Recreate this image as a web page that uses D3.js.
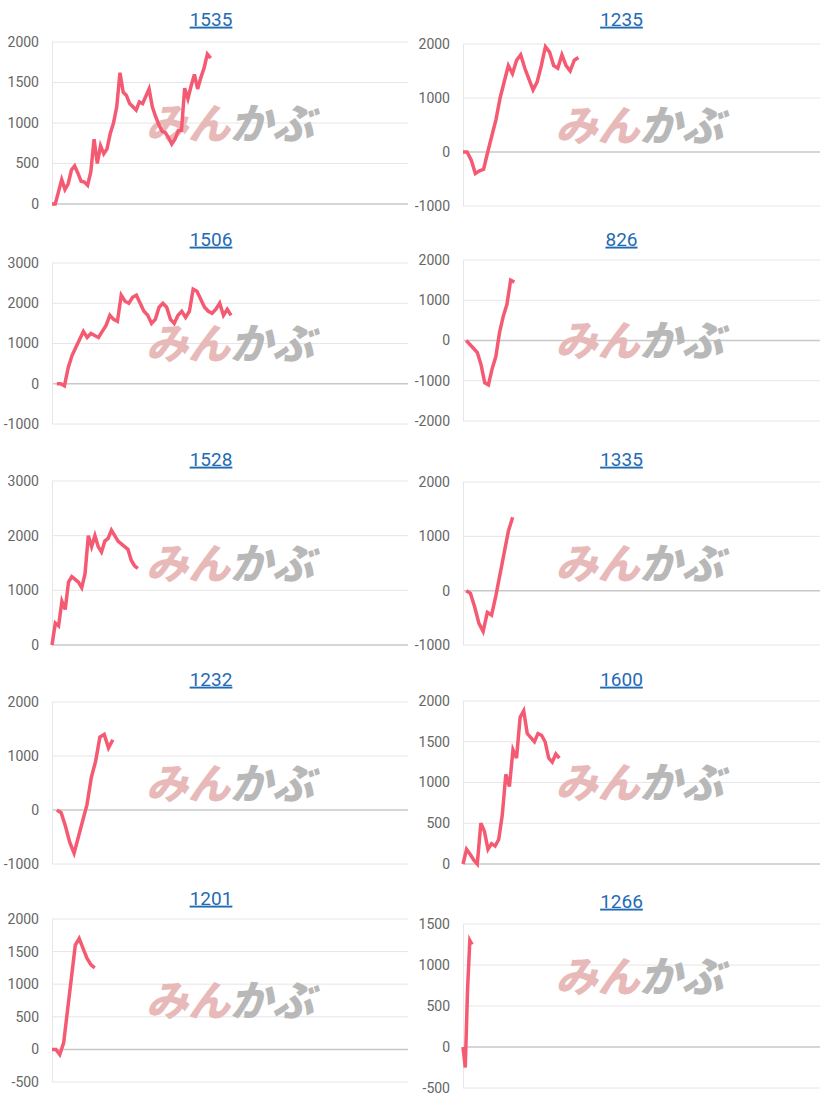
<!DOCTYPE html>
<html><head><meta charset="utf-8">
<script src="https://cdn.jsdelivr.net/npm/d3@7"></script>
<style>body{margin:0;background:#fff}</style></head>
<body><svg id="c" width="822" height="1100"></svg>
<script>
const titles=["1535","1235","1506","826","1528","1335","1232","1600","1201","1266"];
const s1535=[0,0,150,300,180,250,420,470,380,280,270,230,400,800,500,720,620,680,870,1000,1200,1620,1380,1340,1240,1200,1160,1260,1240,1330,1420,1200,1080,980,900,880,820,740,800,900,910,1430,1300,1460,1600,1420,1560,1680,1850,1800];
const s1235=[0,0,-150,-400,-350,-320,0,300,600,1000,1300,1600,1450,1700,1800,1550,1350,1150,1300,1600,1950,1850,1600,1550,1800,1600,1500,1700,1750];
const s1506=[0,0,-50,400,700,900,1100,1300,1150,1250,1200,1150,1300,1450,1700,1600,1550,2200,2050,2000,2150,2200,2000,1800,1700,1500,1600,1900,2000,1900,1600,1500,1700,1800,1650,1800,2350,2300,2100,1900,1800,1750,1850,2000,1700,1850,1700];
const s826=[0,-100,-200,-300,-600,-1050,-1100,-700,-400,200,600,900,1500,1450];
const s1528=[0,400,350,800,650,1150,1250,1200,1150,1050,1300,2000,1800,2000,1800,1700,1900,1950,2100,2000,1900,1850,1800,1750,1550,1450,1400];
const s1335=[0,-50,-300,-600,-750,-400,-450,-100,300,700,1100,1350];
const s1232=[0,-50,-300,-600,-800,-500,-200,100,600,900,1350,1400,1150,1300];
const s1600=[0,180,120,50,0,500,400,180,250,220,300,600,1100,950,1400,1300,1800,1880,1600,1550,1500,1600,1580,1500,1300,1250,1350,1300];
const s1201=[0,0,-80,100,600,1100,1600,1700,1550,1400,1300,1250];
const s1266=[0,-250,700,1300,1250];
const series=[s1535,s1235,s1506,s826,s1528,s1335,s1232,s1600,s1201,s1266];
const ticks=[[0,500,1000,1500,2000],[-1000,0,1000,2000],[-1000,0,1000,2000,3000],[-2000,-1000,0,1000,2000],[0,1000,2000,3000],[-1000,0,1000,2000],[-1000,0,1000,2000],[0,500,1000,1500,2000],[-500,0,500,1000,1500,2000],[-500,0,500,1000,1500]];
const domains=[[0,2000],[-1000,2000],[-1000,3000],[-2000,2000],[0,3000],[-1000,2000],[-1000,2000],[0,2000],[-500,2000],[-500,1500]];
// layout
const tops=[42,44,263,260,481,482,702,701,919,924], bots=[204,206,424,421,645,645,864,864,1082,1088];
const titleY=[19,19,239,239,459,459,679,679,898,901];
const stepMul=[1,1.27,1.17,1.14,1.02,1.3,1.33,1.1,1.2,0.7];
const starts=[0,0,1.5,1,0,1,1.5,0,0,0];
const svg=d3.select("#c");
series.forEach((data,i)=>{
  const col=i%2, x0=col?463:52, x1=col?820:408;
  const g=svg.append("g");
  const y=d3.scaleLinear().domain(domains[i]).range([bots[i],tops[i]]);
  const x=d3.scaleLinear().domain([0,110]).range([x0,x1]);
  ticks[i].forEach(t=>{
    g.append("line").attr("x1",x0).attr("x2",x1).attr("y1",y(t)).attr("y2",y(t))
     .attr("stroke",t===0?"#c8c8c8":"#e6e6e6").attr("stroke-width",t===0?1.5:1);
    g.append("text").attr("x",x0-13).attr("y",y(t)).attr("dy","0.35em").attr("text-anchor","end")
     .attr("font-family","Roboto, Arial, sans-serif").attr("font-size",14).attr("fill","#666").text(t);
  });
  g.append("line").attr("x1",x0+0.5).attr("x2",x0+0.5).attr("y1",tops[i]).attr("y2",bots[i]).attr("stroke","#e6e6e6");
  const cx=(x0+x1)/2+(col?-2:0), cy=(tops[i]+bots[i])/2+(i==9?-30:0);
  const wm=g.append("text").attr("x",cx).attr("y",cy).attr("dy","0.38em").attr("text-anchor","middle")
    .attr("font-family","Noto Sans CJK JP").attr("font-weight",900).attr("font-style","italic")
    .attr("font-size",42).attr("letter-spacing",0);
  wm.append("tspan").attr("fill","#e8b9b9").text("みん");
  wm.append("tspan").attr("fill","#b8b8b8").text("かぶ");
  g.append("path").datum(data).attr("fill","none").attr("stroke","#f55a73").attr("stroke-width",3.5)
   .attr("d",d3.line().x((d,j)=>x(starts[i]+j*stepMul[i])).y(d=>y(d)));
  svg.append("text").attr("x",(x0+x1)/2+(col?-20:-19)).attr("y",titleY[i]).attr("dy","0.35em").attr("text-anchor","middle")
   .attr("font-family","Roboto, Arial, sans-serif").attr("font-size",19).attr("fill","#1f6bb5")
   .attr("text-decoration","underline").text(titles[i]);
});
</script></body></html>
